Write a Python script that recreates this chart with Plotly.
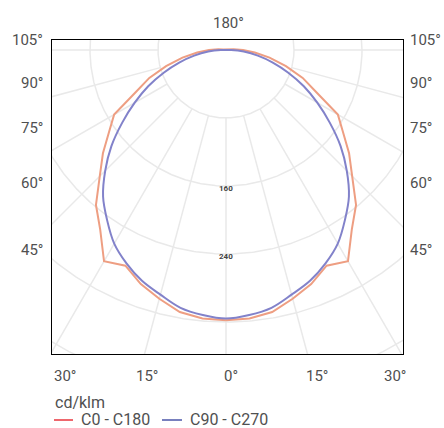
import numpy as np
import plotly.graph_objects as go

# ---------------- data ----------------
ANGLES = list(range(0, 185, 5))  # gamma angle, 0 deg = straight down
C0_C180 = [318, 317, 313, 303, 293, 280, 287, 258, 238, 210, 189, 168, 152,
           117, 96, 73, 52, 34, 20, 9, 3, 0, 0, 0, 0, 0, 0, 0, 0, 0, 0, 0,
           0, 0, 0, 0, 0]
C90_C270 = [316, 313, 308, 298, 289, 277, 263, 244, 225, 201, 176, 149, 124,
            101, 78, 57, 38, 21, 6, 0, 0, 0, 0, 0, 0, 0, 0, 0, 0, 0, 0, 0,
            0, 0, 0, 0, 0]
SERIES_NAMES = ["C0 - C180", "C90 - C270"]
GRID_RADII = [80, 160, 240, 320, 400, 480]
SPOKE_ANGLES = list(range(0, 360, 15))
RADIAL_LABELS = [160, 240]
SIDE_LABELS = ["105°", "90°", "75°", "60°", "45°"]
BOTTOM_LABELS = ["30°", "15°", "0°", "15°", "30°"]
TOP_LABEL = "180°"
UNIT_LABEL = "cd/klm"

# ---------------- layout geometry (pixels) ----------------
W, H = 444, 428
L, R, T, B = 52, 403, 40, 354
CX, CY = 226, 50          # pole position
K = 0.85                  # px per cd/klm
FONT = "Roboto"
TXT = "#505050"

SIDE_Y = [40, 83, 128, 183, 250]
BOTTOM_X = [65, 147, 231, 317, 395]

CURVE_COLORS = ["rgb(238,158,130)", "rgb(130,130,202)"]
LEGEND_COLORS = ["#e8353d", "#4b56a8"]


def px_x(p):
    return (p - L) / (R - L)


def px_y(p):
    return (B - p) / (B - T)


def closed_curve(values):
    g = np.radians(np.array(ANGLES, dtype=float))
    r = np.array(values, dtype=float)
    xr = r * np.sin(g)
    yr = -r * np.cos(g)
    x = np.concatenate([xr, -xr[::-1]])
    y = np.concatenate([yr, yr[::-1]])
    return x, y


fig = go.Figure()

# grid circles
t = np.linspace(0, 2 * np.pi, 721)
gx, gy = [], []
for rr in GRID_RADII:
    gx += list(rr * np.cos(t)) + [None]
    gy += list(rr * np.sin(t)) + [None]
# spokes
for a in SPOKE_ANGLES:
    ar = np.radians(a)
    gx += [GRID_RADII[0] * np.sin(ar), 600 * np.sin(ar), None]
    gy += [-GRID_RADII[0] * np.cos(ar), -600 * np.cos(ar), None]
fig.add_trace(go.Scatter(x=gx, y=gy, mode="lines", hoverinfo="skip",
                         line=dict(color="#e9e9e9", width=1.5),
                         showlegend=False))

# photometric curves
for vals, col, name, shape in [(C0_C180, CURVE_COLORS[0], SERIES_NAMES[0], "linear"),
                               (C90_C270, CURVE_COLORS[1], SERIES_NAMES[1], "spline")]:
    x, y = closed_curve(vals)
    fig.add_trace(go.Scatter(x=x, y=y, mode="lines", name=name,
                             line=dict(color=col, width=2, shape=shape),
                             showlegend=False))

ann = []
# radial labels
for v in RADIAL_LABELS:
    ann.append(dict(x=0, y=-v, xref="x", yref="y", text=str(v), showarrow=False,
                    yshift=-2, font=dict(family=FONT, size=8, color="#444444",
                                         weight="bold")))
# angle labels
ann.append(dict(x=px_x(228), y=px_y(23), xref="paper", yref="paper",
                text=TOP_LABEL, showarrow=False, xanchor="center", yanchor="middle",
                font=dict(family=FONT, size=15, color=TXT)))
for lab, py in zip(SIDE_LABELS, SIDE_Y):
    ann.append(dict(x=px_x(45), y=px_y(py), xref="paper", yref="paper", text=lab,
                    showarrow=False, xanchor="right", yanchor="middle",
                    font=dict(family=FONT, size=15, color=TXT)))
    ann.append(dict(x=px_x(408), y=px_y(py), xref="paper", yref="paper", text=lab,
                    showarrow=False, xanchor="left", yanchor="middle",
                    font=dict(family=FONT, size=15, color=TXT)))
for lab, px in zip(BOTTOM_LABELS, BOTTOM_X):
    ann.append(dict(x=px_x(px), y=px_y(376), xref="paper", yref="paper", text=lab,
                    showarrow=False, xanchor="center", yanchor="middle",
                    font=dict(family=FONT, size=15, color=TXT)))
# legend (title + two entries)
ann.append(dict(x=px_x(53), y=px_y(402), xref="paper", yref="paper", text=UNIT_LABEL,
                showarrow=False, xanchor="left", yanchor="middle",
                font=dict(family=FONT, size=16, color=TXT)))
shapes = []
for (x0, x1, tx), name, col in zip([(54, 73, 79), (162, 182, 188)], SERIES_NAMES,
                                   LEGEND_COLORS):
    shapes.append(dict(type="line", xref="paper", yref="paper",
                       x0=px_x(x0), x1=px_x(x1), y0=px_y(420), y1=px_y(420),
                       line=dict(color=col, width=1.5)))
    ann.append(dict(x=px_x(tx), y=px_y(419), xref="paper", yref="paper", text=name,
                    showarrow=False, xanchor="left", yanchor="middle",
                    font=dict(family=FONT, size=16, color=TXT)))

fig.update_layout(
    width=W, height=H,
    margin=dict(l=L, r=W - R, t=T, b=H - B),
    paper_bgcolor="white", plot_bgcolor="white",
    xaxis=dict(range=[(L - CX) / K, (R - CX) / K], showgrid=False, zeroline=False,
               showticklabels=False, ticks="", showline=True, mirror=True,
               linecolor="black", linewidth=1, fixedrange=True),
    yaxis=dict(range=[-(B - CY) / K, (CY - T) / K], showgrid=False, zeroline=False,
               showticklabels=False, ticks="", showline=True, mirror=True,
               linecolor="black", linewidth=1, fixedrange=True),
    annotations=ann, shapes=shapes, showlegend=False,
)

fig.write_html(
    "out.html",
    config={"displayModeBar": False},
    post_script="document.body.style.margin='0';document.body.style.overflow='hidden';",
)
